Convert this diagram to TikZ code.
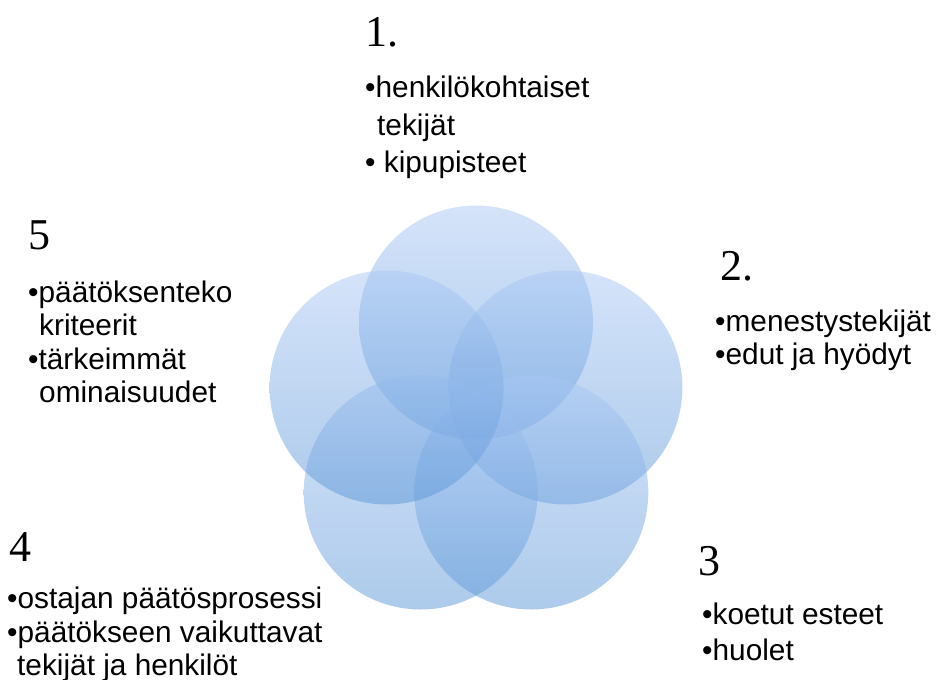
\documentclass[tikz,border=0pt]{standalone}
\usepackage{fontspec}
\newfontfamily\arial{Liberation Sans}
\newfontfamily\numfont{Liberation Serif}
\definecolor{petaltop}{RGB}{170,200,245}
\definecolor{petalbot}{RGB}{90,150,215}
\tikzset{
  petal/.style={circle, minimum size=234pt, inner sep=0pt,
    top color=petaltop, bottom color=petalbot, opacity=0.5},
  num/.style={anchor=base west, inner sep=0pt,
    font=\numfont\fontsize{44}{48}\selectfont},
  item/.style={anchor=base west, inner sep=0pt,
    font=\arial\fontsize{29.8}{34}\selectfont},
}
\begin{document}
\begin{tikzpicture}[x=1pt, y=-1pt]
\useasboundingbox (0,0) rectangle (940,680);

% five overlapping circles on a pentagon
\node[petal] (p1) at (476.0,322.5) {};
\node[petal] (p2) at (565.4,387.5) {};
\node[petal] (p3) at (531.3,492.5) {};
\node[petal] (p4) at (420.7,492.5) {};
\node[petal] (p5) at (386.6,387.5) {};

% 1.
\node[num]  (n1)  at (365,46)  {1.};
\node[item] (t1a) at (365,97)  {•henkilökohtaiset};
\node[item] (t1b) at (377,135) {tekijät};
\node[item] (t1c) at (365,172) {• kipupisteet};

% 2.
\node[num]  (n2)  at (720,280) {2.};
\node[item] (t2a) at (715,331) {•menestystekijät};
\node[item] (t2b) at (715,364) {•edut ja hyödyt};

% 3
\node[num]  (n3)  at (698,575) {3};
\node[item] (t3a) at (702,624) {•koetut esteet};
\node[item] (t3b) at (702,660) {•huolet};

% 4
\node[num]  (n4)  at (9,561)   {4};
\node[item] (t4a) at (7,608)   {•ostajan päätösprosessi};
\node[item] (t4b) at (7,642)   {•päätökseen vaikuttavat};
\node[item] (t4c) at (17,675)  {tekijät ja henkilöt};

% 5
\node[num]  (n5)  at (28,249)  {5};
\node[item] (t5a) at (28,302)  {•päätöksenteko};
\node[item] (t5b) at (39,335)  {kriteerit};
\node[item] (t5c) at (28,369)  {•tärkeimmät};
\node[item] (t5d) at (39,402)  {ominaisuudet};
\end{tikzpicture}
\end{document}
